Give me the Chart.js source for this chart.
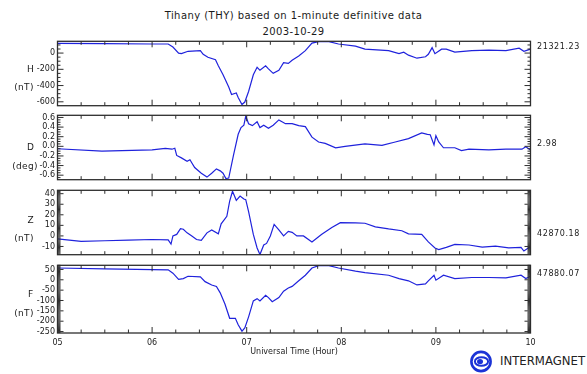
<!DOCTYPE html>
<html>
<head>
<meta charset="utf-8">
<script src="https://cdn.jsdelivr.net/npm/chart.js@4.4.0/dist/chart.umd.min.js"></script>
<style>
  body { margin: 0; background: #fff; }
  #wrap { position: relative; width: 587px; height: 374px; overflow: hidden; font-family: "DejaVu Sans", sans-serif; color: #1a1a1a; }
  #wrap canvas { position: absolute; left: 0; }
  .txt { position: absolute; white-space: nowrap; line-height: 1; }
</style>
</head>
<body>
<div id="wrap">
  <div class="txt" id="title" style="left:0;width:587px;text-align:center;top:11px;font-size:10px;letter-spacing:0.45px">Tihany (THY) based on 1-minute definitive data</div>
  <div class="txt" id="date" style="left:0;width:587px;text-align:center;top:27px;font-size:10px;letter-spacing:0.4px">2003-10-29</div>
  <svg style="position:absolute;left:469px;top:350px" width="25" height="24" viewBox="0 0 25 24">
    <circle cx="12" cy="11.5" r="9.6" fill="none" stroke="#1b33d6" stroke-width="2.6"/>
    <ellipse cx="12.5" cy="11.5" rx="6.6" ry="4.3" fill="none" stroke="#1b33d6" stroke-width="2"/>
    <ellipse cx="11" cy="11.5" rx="3" ry="2.6" fill="#1b33d6"/>
  </svg>
  <div class="txt" style="left:500px;top:356px;font-size:11.7px;color:#222">INTERMAGNET</div>
</div>
<script>
// hours on the time axis
const HOURS = [5, 6, 7, 8, 9, 10];

// H component (nT, offset from baseline)
const H_TIME = [5.0, 5.5, 6.0, 6.17, 6.22, 6.28, 6.31, 6.38, 6.51, 6.54, 6.59, 6.67, 6.70, 6.75, 6.81, 6.84, 6.89, 6.91, 6.95, 6.98, 7.02, 7.07, 7.11, 7.14, 7.20, 7.23, 7.28, 7.34, 7.39, 7.44, 7.48, 7.55, 7.62, 7.69, 7.76, 7.87, 7.97, 8.15, 8.25, 8.50, 8.61, 8.66, 8.71, 8.80, 8.89, 8.92, 8.96, 8.99, 9.06, 9.11, 9.20, 9.38, 9.56, 9.74, 9.88, 9.93, 10.0];
const H_VALUES = [119, 116, 112, 112, 74, 0, -7, 22, 30, -15, -52, -82, -156, -268, -417, -510, -491, -547, -633, -603, -473, -268, -175, -212, -156, -194, -250, -212, -119, -127, -89, -37, 30, 123, 141, 141, 112, 86, 48, 30, -7, 11, -26, -63, -45, -15, 67, -7, 48, 48, 11, 30, 37, 30, 60, 22, 48];

// D component (deg)
const D_TIME = [5.0, 5.47, 6.0, 6.14, 6.21, 6.24, 6.26, 6.31, 6.37, 6.40, 6.45, 6.52, 6.58, 6.63, 6.68, 6.72, 6.75, 6.78, 6.81, 6.86, 6.91, 6.94, 6.97, 6.99, 7.02, 7.06, 7.11, 7.14, 7.18, 7.23, 7.28, 7.34, 7.41, 7.48, 7.55, 7.62, 7.69, 7.76, 7.83, 7.94, 8.04, 8.25, 8.43, 8.57, 8.71, 8.85, 8.91, 8.94, 8.98, 9.00, 9.03, 9.08, 9.20, 9.27, 9.35, 9.56, 9.74, 9.91, 9.95, 10.0];
const D_VALUES = [-0.05, -0.10, -0.075, -0.044, -0.06, -0.04, -0.19, -0.24, -0.31, -0.28, -0.44, -0.56, -0.64, -0.56, -0.47, -0.51, -0.56, -0.67, -0.66, -0.19, 0.25, 0.39, 0.44, 0.63, 0.47, 0.43, 0.51, 0.39, 0.44, 0.375, 0.44, 0.55, 0.47, 0.47, 0.43, 0.41, 0.19, 0.09, 0.06, -0.03, 0.0, 0.05, 0.02, 0.09, 0.16, 0.28, 0.25, 0.24, 0.03, 0.22, 0.09, -0.03, -0.03, -0.09, -0.06, -0.075, -0.06, -0.06, -0.01, -0.075];

// Z component (nT)
const Z_TIME = [5.0, 5.25, 5.50, 5.75, 6.0, 6.17, 6.20, 6.22, 6.26, 6.30, 6.33, 6.37, 6.42, 6.47, 6.52, 6.58, 6.63, 6.70, 6.73, 6.79, 6.82, 6.85, 6.89, 6.93, 6.97, 6.99, 7.02, 7.07, 7.11, 7.14, 7.18, 7.21, 7.25, 7.29, 7.34, 7.39, 7.44, 7.48, 7.53, 7.60, 7.69, 7.79, 7.90, 7.99, 8.15, 8.25, 8.36, 8.50, 8.64, 8.71, 8.85, 8.92, 8.99, 9.03, 9.11, 9.20, 9.35, 9.49, 9.63, 9.77, 9.90, 9.93, 10.0];
const Z_VALUES = [-2.9, -5.1, -4.6, -4.0, -3.4, -3.7, -7.7, 0, 1.4, 6.9, 6.3, 2.9, 0, -3.4, -4.3, 2.9, 5.7, 2.0, 11.4, 18.6, 32.9, 42.3, 33.7, 37.7, 34.9, 34.3, 22.9, 1.4, -11.4, -17.7, -8.6, -7.1, 0, 10.9, 5.7, 0, 4.3, 3.4, 0, 0, -5.7, 1.4, 8.0, 12.6, 12.3, 12.0, 8.6, 6.6, 4.9, 2.0, 1.4, -5.7, -11.4, -12.9, -10.9, -8.0, -8.6, -10.6, -9.7, -11.4, -10.9, -14.3, -10.0];

// F total field (nT)
const F_TIME = [5.0, 5.5, 6.0, 6.17, 6.22, 6.28, 6.33, 6.38, 6.51, 6.56, 6.63, 6.68, 6.72, 6.77, 6.82, 6.88, 6.91, 6.95, 6.98, 7.02, 7.07, 7.11, 7.14, 7.20, 7.23, 7.27, 7.34, 7.39, 7.44, 7.48, 7.55, 7.62, 7.69, 7.76, 7.87, 7.97, 8.15, 8.25, 8.50, 8.61, 8.71, 8.80, 8.89, 8.92, 8.98, 9.00, 9.08, 9.20, 9.38, 9.56, 9.74, 9.90, 9.95, 10.0];
const F_VALUES = [57, 53, 49, 48, 32, 2, 6, 17, 14, -9, -25, -32, -63, -117, -186, -186, -217, -248, -232, -179, -102, -91, -102, -75, -86, -106, -86, -55, -40, -32, -5, 22, 57, 68, 68, 57, 42, 35, 22, 6, -5, -25, -20, -5, 22, -2, 22, 6, 11, 11, 9, 22, 6, 17];

// axis tick labels
const H_TICKS = [0, -200, -400, -600];
const D_TICKS = [0.6, 0.4, 0.2, 0.0, -0.2, -0.4, -0.6];
const Z_TICKS = [40, 30, 20, 10, 0, -10];
const F_TICKS = [50, 0, -50, -100, -150, -200, -250];

// component names, units and baselines printed on the right
const NAMES = ['H', 'D', 'Z', 'F'];
const UNITS = ['(nT)', '(deg)', '(nT)', '(nT)'];
const BASELINES = ['21321.23', '2.98', '42870.18', '47880.07'];

const PLOT_LEFT = 57.5, PLOT_RIGHT = 530.5, PANEL_H = 71;
const LINE = '#1f22dc', INK = '#1a1a1a', FRAME = '#2e2e2e';

const panels = [
  { time: H_TIME, values: H_VALUES, ticks: H_TICKS, min: -648, max: 145, minor: 50, dec: 0, top: 38 },
  { time: D_TIME, values: D_VALUES, ticks: D_TICKS, min: -0.694, max: 0.645, minor: 0.05, dec: 1, top: 112 },
  { time: Z_TIME, values: Z_VALUES, ticks: Z_TICKS, min: -17.8, max: 43.2, minor: 1, dec: 0, top: 187 },
  { time: F_TIME, values: F_VALUES, ticks: F_TICKS, min: -257, max: 70, minor: 5, dec: 0, top: 262 }
];

// label positions (page px): name centre, unit box, baseline text
const NAME_Y = [69, 146.5, 220, 294];
const UNIT_Y = [87, 165.5, 237.5, 312.5];
const BASE_Y = [47.3, 144, 234, 274];

// IDL-like frame with inward ticks on all four sides
const framePlugin = {
  id: 'frame',
  afterDraw(chart, args, opts) {
    const { ctx, chartArea: a, scales: { x, y } } = chart;
    ctx.save();
    ctx.strokeStyle = FRAME;
    ctx.lineWidth = 1.3;
    ctx.strokeRect(a.left, a.top, a.right - a.left, a.bottom - a.top);
    ctx.lineWidth = 1;
    ctx.beginPath();
    for (let t = x.min; t <= x.max + 1e-6; t += 0.25) {
      const px = x.getPixelForValue(t);
      const len = Math.abs(t - Math.round(t)) < 1e-6 ? 6 : 3.5;
      ctx.moveTo(px, a.top); ctx.lineTo(px, a.top + len);
      ctx.moveTo(px, a.bottom); ctx.lineTo(px, a.bottom - len);
    }
    const step = opts.minor;
    const n0 = Math.ceil(y.min / step - 1e-6), n1 = Math.floor(y.max / step + 1e-6);
    for (let k = n0; k <= n1; k++) {
      const v = k * step;
      const py = y.getPixelForValue(v);
      const major = opts.major.some(m => Math.abs(m - v) < step / 10);
      const len = major ? 6 : 3;
      ctx.moveTo(a.left, py); ctx.lineTo(a.left + len, py);
      ctx.moveTo(a.right, py); ctx.lineTo(a.right - len, py);
    }
    ctx.stroke();
    ctx.restore();
  }
};

const wrap = document.getElementById('wrap');

panels.forEach((p, i) => {
  const last = i === panels.length - 1;
  const canvas = document.createElement('canvas');
  const h = PANEL_H + 4 + (last ? 40 : 4);
  canvas.width = 587;
  canvas.height = h;
  canvas.style.top = (p.top - 4) + 'px';
  wrap.appendChild(canvas);

  new Chart(canvas, {
    type: 'line',
    data: {
      datasets: [{
        data: p.time.map((t, k) => ({ x: t, y: p.values[k] })),
        borderColor: LINE,
        borderWidth: 1.2,
        pointRadius: 0,
        tension: 0,
        fill: false
      }]
    },
    options: {
      responsive: false,
      animation: false,
      devicePixelRatio: 1,
      layout: { padding: { left: 0, right: 587 - PLOT_RIGHT, top: 4, bottom: last ? 0 : 4 } },
      plugins: {
        legend: { display: false },
        tooltip: { enabled: false },
        frame: { minor: p.minor, major: p.ticks }
      },
      scales: {
        x: {
          type: 'linear',
          min: 5,
          max: 10,
          display: last,
          afterBuildTicks: s => { s.ticks = HOURS.map(v => ({ value: v })); },
          afterFit: s => { s.height = last ? 40 : 0; },
          grid: { display: false, drawTicks: false },
          border: { display: false },
          ticks: {
            callback: v => String(v).padStart(2, '0'),
            font: { family: 'DejaVu Sans', size: 8 },
            color: INK,
            padding: 5,
            maxRotation: 0,
            autoSkip: false
          },
          title: {
            display: true,
            text: 'Universal Time (Hour)',
            font: { family: 'DejaVu Sans', size: 8 },
            color: INK,
            padding: { top: 0, bottom: 16 }
          }
        },
        y: {
          type: 'linear',
          min: p.min,
          max: p.max,
          afterBuildTicks: s => { s.ticks = p.ticks.map(v => ({ value: v })); },
          afterFit: s => { s.width = PLOT_LEFT; },
          grid: { display: false, drawTicks: false },
          border: { display: false },
          ticks: {
            callback: v => v.toFixed(p.dec),
            font: { family: 'DejaVu Sans', size: 8 },
            color: INK,
            padding: 2.5,
            autoSkip: false
          }
        }
      }
    },
    plugins: [framePlugin]
  });

  const name = document.createElement('div');
  name.className = 'txt';
  name.textContent = NAMES[i];
  name.style.cssText = `left:30.5px;top:${NAME_Y[i]}px;font-size:9px;transform:translate(-50%,-50%)`;
  wrap.appendChild(name);

  const unit = document.createElement('div');
  unit.className = 'txt';
  unit.textContent = UNITS[i];
  unit.style.cssText = `left:${i === 1 ? 25 : 24}px;top:${UNIT_Y[i]}px;font-size:9px;letter-spacing:0.3px;transform:translate(-50%,-50%)`;
  wrap.appendChild(unit);

  const base = document.createElement('div');
  base.className = 'txt';
  base.textContent = BASELINES[i];
  base.style.cssText = `left:537px;top:${BASE_Y[i]}px;font-size:8px;letter-spacing:0.6px;transform:translateY(-50%)`;
  wrap.appendChild(base);
});
</script>
</body>
</html>
